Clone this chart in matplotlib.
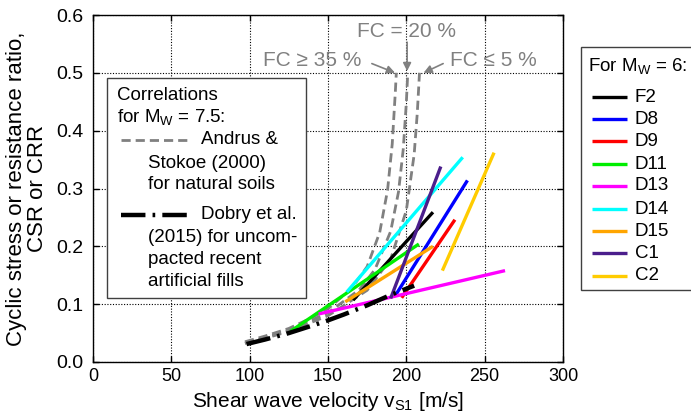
import matplotlib
matplotlib.use("Agg")
import matplotlib.pyplot as plt
from matplotlib.lines import Line2D
from matplotlib.patches import Rectangle

plt.rcParams['font.family'] = ['Liberation Sans', 'DejaVu Sans']
plt.rcParams['mathtext.fontset'] = 'custom'
plt.rcParams['mathtext.rm'] = 'Liberation Sans'
plt.rcParams['mathtext.it'] = 'Liberation Sans'
plt.rcParams['mathtext.default'] = 'regular'

# ---------------------------------------------------------------------------
# Data
# ---------------------------------------------------------------------------
# Andrus & Stokoe (2000) curves, Mw = 7.5
as_fc35_vs = [97, 110, 125, 140, 150, 165, 175, 183, 188, 191, 193, 193.6]
as_fc35_crr = [0.035, 0.045, 0.058, 0.077, 0.092, 0.127, 0.165, 0.224, 0.297, 0.377, 0.468, 0.50]

as_fc20_vs = [97, 110, 125, 150, 170, 180, 190, 195, 198, 200, 200.9]
as_fc20_crr = [0.033, 0.042, 0.055, 0.085, 0.125, 0.160, 0.226, 0.294, 0.367, 0.448, 0.50]

as_fc5_vs = [97, 110, 125, 150, 175, 190, 200, 205, 207, 208.4]
as_fc5_crr = [0.032, 0.041, 0.053, 0.080, 0.124, 0.178, 0.262, 0.359, 0.431, 0.50]

# Dobry et al. (2015), uncompacted recent artificial fills
dobry_vs = [98, 110, 125, 140, 150, 160, 175, 190, 205]
dobry_crr = [0.031, 0.039, 0.050, 0.063, 0.072, 0.082, 0.098, 0.116, 0.132]

# Case histories, Mw = 6 (start / end points)
site_names = ["F2", "D8", "D9", "D11", "D13", "D14", "D15", "C1", "C2"]
site_vs = [(166, 217), (193, 239), (197, 231), (126, 208), (144, 263),
           (162, 236), (161, 217), (190, 222), (223, 256)]
site_csr = [(0.107, 0.259), (0.115, 0.314), (0.111, 0.246), (0.053, 0.204),
            (0.083, 0.158), (0.121, 0.354), (0.104, 0.200), (0.110, 0.338),
            (0.158, 0.362)]
site_colors = ["#000000", "#0000ff", "#ff0000", "#00ee00", "#ff00ff",
               "#00ffff", "#ffa500", "#4b1e8c", "#ffcc00"]

GRAY = "#808080"
FS_LAB = 15
FS_LEG = 13.5
DOBRY_DASH = (5.5, 1.6, 0.6, 1.6)
AS_DASH = (3.3, 1.8)

W, H = 691, 418
fig = plt.figure(figsize=(W / 100, H / 100), dpi=100)
ax = fig.add_axes([93 / W, 1 - 362 / H, 470 / W, 347 / H])


def fx(px):
    return px / W


def fy(py):
    return 1 - py / H


# ---------------------------------------------------------------------------
# Curves
# ---------------------------------------------------------------------------
dash_kw = dict(color=GRAY, lw=2.0, dashes=AS_DASH, zorder=3)
ax.plot(as_fc35_vs, as_fc35_crr, **dash_kw)
ax.plot(as_fc20_vs, as_fc20_crr, **dash_kw)
ax.plot(as_fc5_vs, as_fc5_crr, **dash_kw)

for vs, csr, c in zip(site_vs, site_csr, site_colors):
    ax.plot(vs, csr, color=c, lw=2.4, solid_capstyle="butt", zorder=4)

ax.plot(dobry_vs, dobry_crr, color="black", lw=3.2,
        dashes=DOBRY_DASH, zorder=5)

# ---------------------------------------------------------------------------
# FC annotations
# ---------------------------------------------------------------------------
arrow = dict(arrowstyle="-|>", color=GRAY, lw=1.2, mutation_scale=12,
             shrinkA=0, shrinkB=0)
ax.annotate("", xy=(200.5, 0.503), xytext=(200.5, 0.553), arrowprops=arrow)
ax.annotate("", xy=(192.8, 0.50), xytext=(178, 0.516), arrowprops=arrow)
ax.annotate("", xy=(211, 0.50), xytext=(223.5, 0.516), arrowprops=arrow)
ax.text(200, 0.571, "FC = 20 %", color=GRAY, fontsize=FS_LAB,
        ha="center", va="center")
ax.text(171.5, 0.522, "FC \u2265 35 %", color=GRAY, fontsize=FS_LAB,
        ha="right", va="center")
ax.text(228, 0.522, "FC \u2264 5 %", color=GRAY, fontsize=FS_LAB,
        ha="left", va="center")

# ---------------------------------------------------------------------------
# Axes
# ---------------------------------------------------------------------------
ax.set_xlim(0, 300)
ax.set_ylim(0, 0.6)
ax.set_xticks(range(0, 301, 50))
ax.set_yticks([0, 0.1, 0.2, 0.3, 0.4, 0.5, 0.6])
ax.set_yticklabels(["0.0", "0.1", "0.2", "0.3", "0.4", "0.5", "0.6"])
ax.tick_params(direction="in", length=4, width=1, top=True, right=True)
ax.tick_params(axis="x", labelsize=13, pad=4)
ax.tick_params(axis="y", labelsize=14, pad=7)
ax.grid(True, color="black", lw=0.8, linestyle=(0, (1, 1.5)))
for sp in ax.spines.values():
    sp.set_linewidth(1.0)
ax.set_xlabel("Shear wave velocity v$_{S1}$ [m/s]", fontsize=FS_LAB,
              labelpad=4)
ax.set_ylabel("Cyclic stress or resistance ratio,\nCSR or CRR",
              fontsize=16, labelpad=6, linespacing=1.0)

# ---------------------------------------------------------------------------
# Correlations box (inside axes)
# ---------------------------------------------------------------------------
fig.patches.append(Rectangle((fx(107), fy(298)), fx(306) - fx(107),
                             fy(78) - fy(298), transform=fig.transFigure,
                             facecolor="white", edgecolor="#404040", lw=1.0,
                             zorder=10))
txt = dict(fontsize=FS_LEG, va="center", zorder=11)
fig.text(fx(117), fy(95), "Correlations", **txt)
fig.text(fx(117), fy(117), "for M$_W$ = 7.5:", **txt)
fig.add_artist(Line2D([fx(121), fx(190)], [fy(140), fy(140)], color=GRAY,
                      lw=2.0, dashes=AS_DASH, zorder=11))
fig.text(fx(201), fy(140), "Andrus &", **txt)
fig.text(fx(148), fy(163), "Stokoe (2000)", **txt)
fig.text(fx(148), fy(185), "for natural soils", **txt)
fig.add_artist(Line2D([fx(121), fx(192)], [fy(215), fy(215)], color="black",
                      lw=3.2, dashes=DOBRY_DASH, zorder=11))
fig.text(fx(201), fy(215), "Dobry et al.", **txt)
fig.text(fx(148), fy(238), "(2015) for uncom-", **txt)
fig.text(fx(148), fy(260), "pacted recent", **txt)
fig.text(fx(148), fy(282), "artificial fills", **txt)

# ---------------------------------------------------------------------------
# Site legend (outside axes)
# ---------------------------------------------------------------------------
fig.patches.append(Rectangle((fx(581), fy(290)), fx(700) - fx(581),
                             fy(47) - fy(290), transform=fig.transFigure,
                             facecolor="white", edgecolor="#404040", lw=1.0))
fig.text(fx(588), fy(66), "For M$_W$ = 6:", fontsize=FS_LEG, va="center")
row_y = [97, 119, 141, 164, 186, 209, 231, 253, 276]
for name, c, y in zip(site_names, site_colors, row_y):
    fig.add_artist(Line2D([fx(592), fx(627)], [fy(y), fy(y)], color=c,
                          lw=2.4, solid_capstyle="butt"))
    fig.text(fx(635), fy(y), name, fontsize=FS_LEG, va="center")

fig.savefig("out.png", dpi=100)
